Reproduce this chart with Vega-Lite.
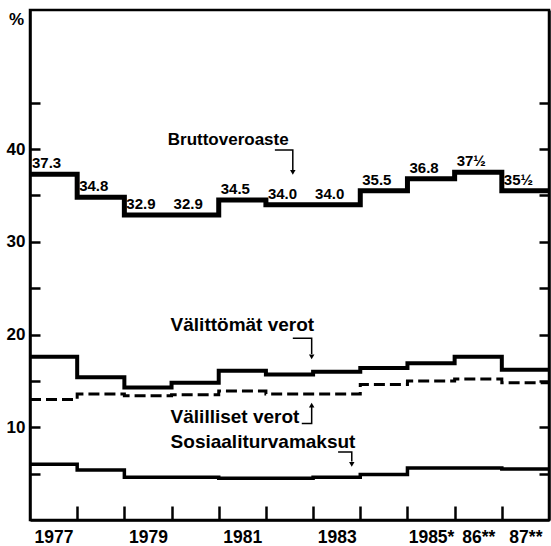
{
  "$schema": "https://vega.github.io/schema/vega-lite/v6.json",
  "width": 519,
  "height": 510,
  "autosize": "none",
  "padding": {"left": 30, "top": 10, "right": 2, "bottom": 26},
  "background": "white",
  "config": {
    "view": {"stroke": "black", "strokeWidth": 2.5},
    "font": "Liberation Sans"
  },
  "datasets": {
    "series": [
      {"s": "B", "x": 1977, "y": 37.3, "lab": "37.3"},
      {"s": "B", "x": 1978, "y": 34.8, "lab": "34.8"},
      {"s": "B", "x": 1979, "y": 32.9, "lab": "32.9"},
      {"s": "B", "x": 1980, "y": 32.9, "lab": "32.9"},
      {"s": "B", "x": 1981, "y": 34.5, "lab": "34.5"},
      {"s": "B", "x": 1982, "y": 34.0, "lab": "34.0"},
      {"s": "B", "x": 1983, "y": 34.0, "lab": "34.0"},
      {"s": "B", "x": 1984, "y": 35.5, "lab": "35.5"},
      {"s": "B", "x": 1985, "y": 36.8, "lab": "36.8"},
      {"s": "B", "x": 1986, "y": 37.5, "lab": "37½"},
      {"s": "B", "x": 1987, "y": 35.5, "lab": "35½"},
      {"s": "B", "x": 1988, "y": 35.5},
      {"s": "D", "x": 1977, "y": 17.6},
      {"s": "D", "x": 1978, "y": 15.4},
      {"s": "D", "x": 1979, "y": 14.3},
      {"s": "D", "x": 1980, "y": 14.8},
      {"s": "D", "x": 1981, "y": 16.1},
      {"s": "D", "x": 1982, "y": 15.7},
      {"s": "D", "x": 1983, "y": 16.0},
      {"s": "D", "x": 1984, "y": 16.4},
      {"s": "D", "x": 1985, "y": 16.9},
      {"s": "D", "x": 1986, "y": 17.6},
      {"s": "D", "x": 1987, "y": 16.2},
      {"s": "D", "x": 1988, "y": 16.2},
      {"s": "I", "x": 1977, "y": 13.0},
      {"s": "I", "x": 1978, "y": 13.6},
      {"s": "I", "x": 1979, "y": 13.4},
      {"s": "I", "x": 1980, "y": 13.5},
      {"s": "I", "x": 1981, "y": 13.9},
      {"s": "I", "x": 1982, "y": 13.6},
      {"s": "I", "x": 1983, "y": 13.6},
      {"s": "I", "x": 1984, "y": 14.6},
      {"s": "I", "x": 1985, "y": 15.0},
      {"s": "I", "x": 1986, "y": 15.2},
      {"s": "I", "x": 1987, "y": 14.8},
      {"s": "I", "x": 1988, "y": 14.8},
      {"s": "S", "x": 1977, "y": 6.0},
      {"s": "S", "x": 1978, "y": 5.4},
      {"s": "S", "x": 1979, "y": 4.6},
      {"s": "S", "x": 1980, "y": 4.6},
      {"s": "S", "x": 1981, "y": 4.5},
      {"s": "S", "x": 1982, "y": 4.5},
      {"s": "S", "x": 1983, "y": 4.6},
      {"s": "S", "x": 1984, "y": 4.9},
      {"s": "S", "x": 1985, "y": 5.6},
      {"s": "S", "x": 1986, "y": 5.6},
      {"s": "S", "x": 1987, "y": 5.5},
      {"s": "S", "x": 1988, "y": 5.5}
    ],
    "notes": [
      {"g": "small", "t": "Bruttoveroaste", "x": 1979.92, "y": 40.45},
      {"g": "big", "t": "Välittömät verot", "x": 1979.98, "y": 20.4},
      {"g": "big", "t": "Välilliset verot", "x": 1979.98, "y": 10.46},
      {"g": "big", "t": "Sosiaaliturvamaksut", "x": 1979.98, "y": 7.77}
    ],
    "arrows": [
      {"a": "B", "o": 1, "x": 1982.19, "y": 39.9},
      {"a": "B", "o": 2, "x": 1982.57, "y": 39.9},
      {"a": "B", "o": 3, "x": 1982.57, "y": 37.7},
      {"a": "D", "o": 1, "x": 1982.57, "y": 19.6},
      {"a": "D", "o": 2, "x": 1982.97, "y": 19.6},
      {"a": "D", "o": 3, "x": 1982.97, "y": 17.9},
      {"a": "I", "o": 1, "x": 1982.76, "y": 10.4},
      {"a": "I", "o": 2, "x": 1982.97, "y": 10.4},
      {"a": "I", "o": 3, "x": 1982.97, "y": 12.2},
      {"a": "S", "o": 1, "x": 1983.53, "y": 7.34},
      {"a": "S", "o": 2, "x": 1983.82, "y": 7.34},
      {"a": "S", "o": 3, "x": 1983.82, "y": 6.3}
    ],
    "tips": [
      {"a": "B", "d": "down", "x": 1982.57, "y": 37.5},
      {"a": "D", "d": "down", "x": 1982.97, "y": 17.6},
      {"a": "I", "d": "up", "x": 1982.97, "y": 12.4},
      {"a": "S", "d": "down", "x": 1983.82, "y": 6.0}
    ]
  },
  "encoding": {
    "x": {
      "field": "x",
      "type": "quantitative",
      "scale": {"domain": [1977, 1988], "nice": false, "zero": false},
      "axis": {
        "title": null,
        "grid": false,
        "values": [1977.5, 1978, 1979, 1979.5, 1980, 1981, 1981.5, 1982, 1983, 1983.5, 1984, 1985, 1985.5, 1986, 1986.5, 1987, 1987.5],
        "labelExpr": "datum.value == 1977.5 ? '1977' : datum.value == 1979.5 ? '1979' : datum.value == 1981.5 ? '1981' : datum.value == 1983.5 ? '1983' : datum.value == 1985.5 ? '1985*' : datum.value == 1986.5 ? '86**' : datum.value == 1987.5 ? '87**' : ''",
        "tickOpacity": {"condition": {"test": "datum.value % 1 == 0", "value": 1}, "value": 0},
        "tickSize": -14,
        "tickWidth": 2.5,
        "tickColor": "black",
        "domainColor": "black",
        "domainWidth": 2.5,
        "labelFont": "Liberation Sans",
        "labelFontWeight": "bold",
        "labelFontSize": 17.5,
        "labelColor": "black",
        "labelPadding": 22,
        "labelOverlap": false,
        "labelFlush": false,
        "labelBaseline": "top"
      }
    },
    "y": {
      "field": "y",
      "type": "quantitative",
      "scale": {"domain": [0, 55], "nice": false, "zero": true},
      "axis": {
        "grid": false,
        "values": [5, 10, 15, 20, 25, 30, 35, 40, 45],
        "labelExpr": "datum.value % 10 == 0 ? datum.label : ''",
        "tickSize": -10,
        "tickWidth": 2.5,
        "tickColor": "black",
        "domainColor": "black",
        "domainWidth": 2.5,
        "labelFont": "Liberation Sans",
        "labelFontWeight": "bold",
        "labelFontSize": 17,
        "labelColor": "black",
        "labelPadding": 15,
        "labelOverlap": false,
        "title": "%",
        "titleAngle": 0,
        "titleX": -14,
        "titleY": 14,
        "titleAlign": "center",
        "titleBaseline": "alphabetic",
        "titleFont": "Liberation Sans",
        "titleFontWeight": "bold",
        "titleFontSize": 17,
        "titleColor": "black"
      }
    }
  },
  "layer": [
    {
      "layer": [
        {
          "data": {"name": "series"},
          "transform": [{"filter": "datum.s == 'B'"}],
          "mark": {"type": "line", "interpolate": "step-after", "color": "black", "strokeWidth": 5, "strokeCap": "butt", "strokeJoin": "miter"}
        },
        {
          "data": {"name": "series"},
          "transform": [{"filter": "datum.s == 'D'"}],
          "mark": {"type": "line", "interpolate": "step-after", "color": "black", "strokeWidth": 4, "strokeCap": "butt", "strokeJoin": "miter"}
        },
        {
          "data": {"name": "series"},
          "transform": [{"filter": "datum.s == 'I'"}],
          "mark": {"type": "line", "interpolate": "step-after", "color": "black", "strokeWidth": 3, "strokeDash": [11, 5], "strokeCap": "butt", "strokeJoin": "miter"}
        },
        {
          "data": {"name": "series"},
          "transform": [{"filter": "datum.s == 'S'"}],
          "mark": {"type": "line", "interpolate": "step-after", "color": "black", "strokeWidth": 3.5, "strokeCap": "butt", "strokeJoin": "miter"}
        },
        {
          "data": {"name": "series"},
          "transform": [{"filter": "datum.lab != null"}],
          "mark": {"type": "text", "align": "left", "baseline": "alphabetic", "dx": 2, "dy": -6, "fontSize": 15, "fontWeight": "bold", "color": "black"},
          "encoding": {"text": {"field": "lab"}}
        },
        {
          "data": {"name": "notes"},
          "transform": [{"filter": "datum.g == 'small'"}],
          "mark": {"type": "text", "align": "left", "baseline": "alphabetic", "fontSize": 17, "fontWeight": "bold", "color": "black"},
          "encoding": {"text": {"field": "t"}}
        },
        {
          "data": {"name": "notes"},
          "transform": [{"filter": "datum.g == 'big'"}],
          "mark": {"type": "text", "align": "left", "baseline": "alphabetic", "fontSize": 19, "fontWeight": "bold", "color": "black"},
          "encoding": {"text": {"field": "t"}}
        },
        {
          "data": {"name": "arrows"},
          "mark": {"type": "line", "color": "black", "strokeWidth": 1.5},
          "encoding": {"detail": {"field": "a"}, "order": {"field": "o"}}
        },
        {
          "data": {"name": "tips"},
          "transform": [{"filter": "datum.d == 'down'"}],
          "mark": {"type": "point", "shape": "triangle-down", "filled": true, "color": "black", "size": 30, "opacity": 1}
        },
        {
          "data": {"name": "tips"},
          "transform": [{"filter": "datum.d == 'up'"}],
          "mark": {"type": "point", "shape": "triangle-up", "filled": true, "color": "black", "size": 30, "opacity": 1}
        }
      ]
    },
    {
      "data": {"name": "tips"},
      "mark": {"type": "point", "opacity": 0},
      "encoding": {
        "y": {
          "field": "y",
          "type": "quantitative",
          "scale": {"domain": [0, 55], "nice": false, "zero": true},
          "axis": {
            "orient": "right",
            "title": null,
            "grid": false,
            "values": [5, 10, 15, 20, 25, 30, 35, 40, 45],
            "labels": false,
            "tickSize": -10,
            "tickWidth": 2.5,
            "tickColor": "black",
            "domainColor": "black",
            "domainWidth": 2.5
          }
        }
      }
    }
  ],
  "resolve": {"axis": {"y": "independent"}}
}
